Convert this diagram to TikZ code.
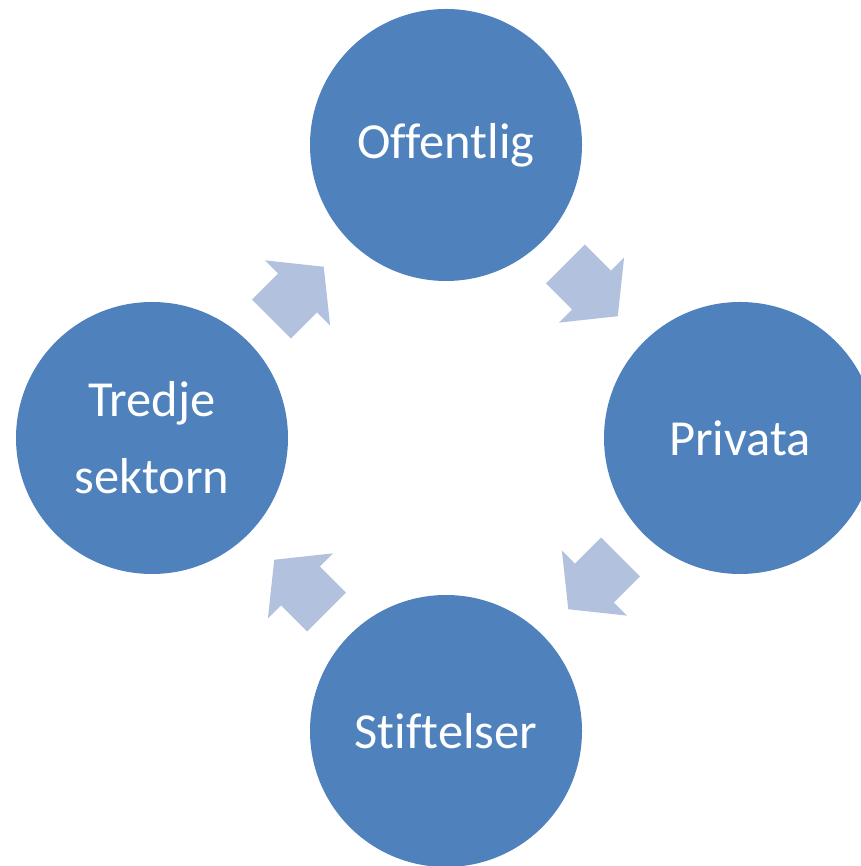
\documentclass[tikz,border=0pt]{standalone}
\usepackage{fontspec}
\setmainfont{Carlito}[Ligatures=NoCommon]
\usetikzlibrary{calc}

\definecolor{circblue}{RGB}{79,129,189}
\definecolor{arrowblue}{RGB}{178,193,221}

\tikzset{
  sector/.style={circle, fill=circblue, minimum size=272pt, inner sep=0pt,
    text=white, align=center, font=\fontsize{50.5}{77}\selectfont},
  cyclearrow/.pic={
    \fill[arrowblue] (-39,-27.5) -- (-2,-27.5) -- (-2,-46) -- (35,0)
      -- (-2,46) -- (-2,27.5) -- (-39,27.5) -- cycle;
  }
}

\begin{document}
\begin{tikzpicture}[x=1pt,y=1pt]
      \useasboundingbox (0,0) rectangle (860,866);

      % the four sectors
      \node[sector] (offentlig) at (446,721) {Offentlig};
      \node[sector] (privata) at (740,428) {Privata};
      \node[sector] (stiftelser) at (446,135) {Stiftelser};
      \node[sector] (tredje) at (152,428) {Tredje\\sektorn};

      % arrows between them
      \pic[rotate=-45] (a1) at ($(offentlig)!0.5!(privata)$) {cyclearrow};
      \pic[rotate=-135] (a2) at ($(privata)!0.5!(stiftelser)$) {cyclearrow};
      \pic[rotate=135] (a3) at ($(stiftelser)!0.5!(tredje)$) {cyclearrow};
      \pic[rotate=45] (a4) at ($(tredje)!0.5!(offentlig)$) {cyclearrow};
\end{tikzpicture}
\end{document}
